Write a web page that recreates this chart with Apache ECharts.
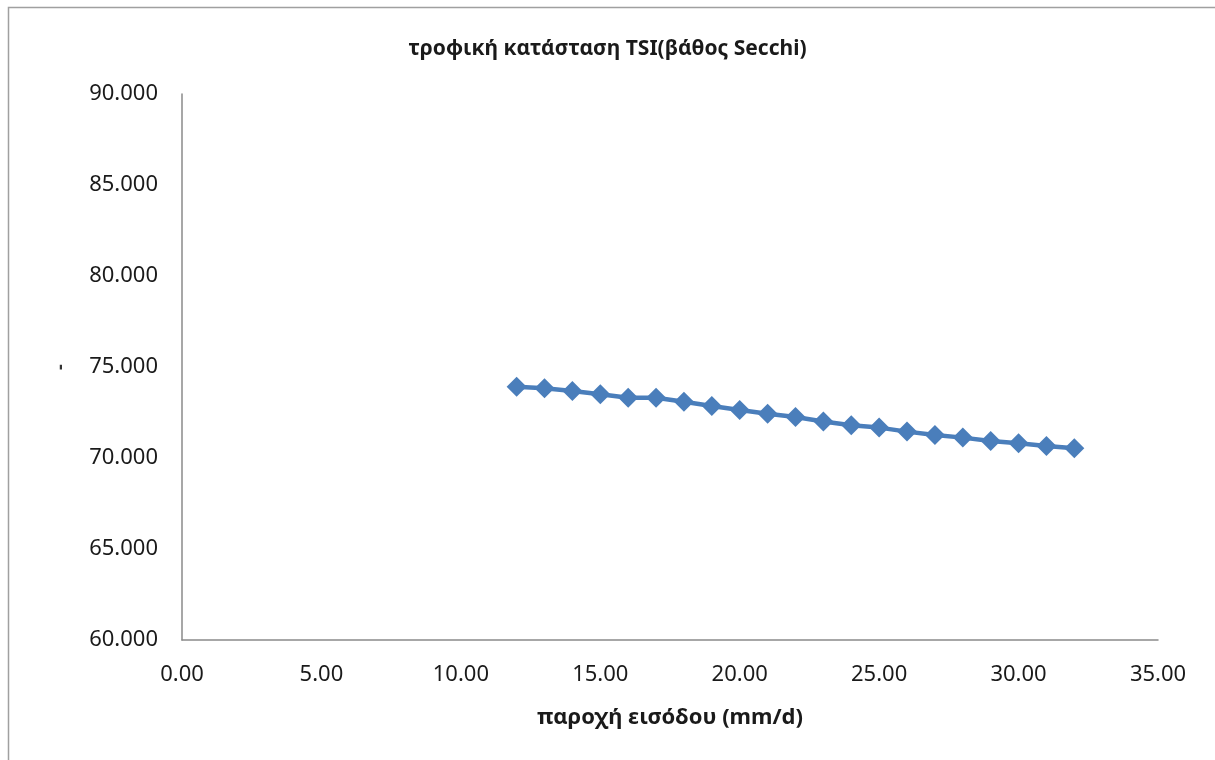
<!DOCTYPE html>
<html>
<head>
<meta charset="utf-8">
<script src="https://cdn.jsdelivr.net/npm/echarts@6/dist/echarts.min.js"></script>
<style>html,body{margin:0;padding:0;background:#fff}#c{width:1215px;height:760px}</style>
</head>
<body>
<div id="c"></div>
<script>
const xValues = [12,13,14,15,16,17,18,19,20,21,22,23,24,25,26,27,28,29,30,31,32];
const tsiValues = [73.92,73.83,73.68,73.50,73.31,73.31,73.09,72.86,72.64,72.43,72.25,72.01,71.80,71.67,71.45,71.26,71.12,70.93,70.81,70.66,70.53];
const titleText = 'τροφική κατάσταση TSI(βάθος Secchi)';
const xTitle = 'παροχή εισόδου (mm/d)';

const chart = echarts.init(document.getElementById('c'));
const font = '"Noto Sans", sans-serif';
chart.setOption({
  animation: false,
  backgroundColor: '#fff',
  graphic: [{
    type: 'rect', shape: {x: 8.5, y: 7.5, width: 1220, height: 770},
    style: {fill: 'none', stroke: '#a0a0a0', lineWidth: 1.5}, silent: true
  }],
  title: {
    text: titleText, left: 'center', top: 34,
    textStyle: {fontFamily: font, fontSize: 21, fontWeight: 'bold', color: '#1a1a1a'}
  },
  grid: {left: 182, right: 57, top: 94, bottom: 120},
  xAxis: {
    type: 'value', min: 0, max: 35, interval: 5,
    name: xTitle, nameLocation: 'middle', nameGap: 67,
    nameTextStyle: {fontFamily: font, fontSize: 22, fontWeight: 'bold', color: '#1a1a1a'},
    axisLine: {show: true, lineStyle: {color: '#8a8a8a', width: 1.5}},
    axisTick: {show: false},
    splitLine: {show: false},
    axisLabel: {fontFamily: font, fontSize: 22, color: '#1a1a1a', margin: 24,
      formatter: v => v.toFixed(2)}
  },
  yAxis: {
    type: 'value', min: 60, max: 90, interval: 5,
    name: '-', nameLocation: 'middle', nameGap: 112, nameRotate: 90,
    nameTextStyle: {fontFamily: font, fontSize: 18, fontWeight: 'bold', color: '#333'},
    axisLine: {show: true, lineStyle: {color: '#8a8a8a', width: 1.5}},
    axisTick: {show: false},
    splitLine: {show: false},
    axisLabel: {fontFamily: font, fontSize: 22, color: '#1a1a1a', margin: 24,
      formatter: v => v.toFixed(3)}
  },
  series: [{
    type: 'line',
    data: xValues.map((x, i) => [x, tsiValues[i]]),
    symbol: 'diamond', symbolSize: 20,
    lineStyle: {color: '#4a7ebb', width: 4.5},
    itemStyle: {color: '#4a7ebb'}
  }]
});
</script>
</body>
</html>
